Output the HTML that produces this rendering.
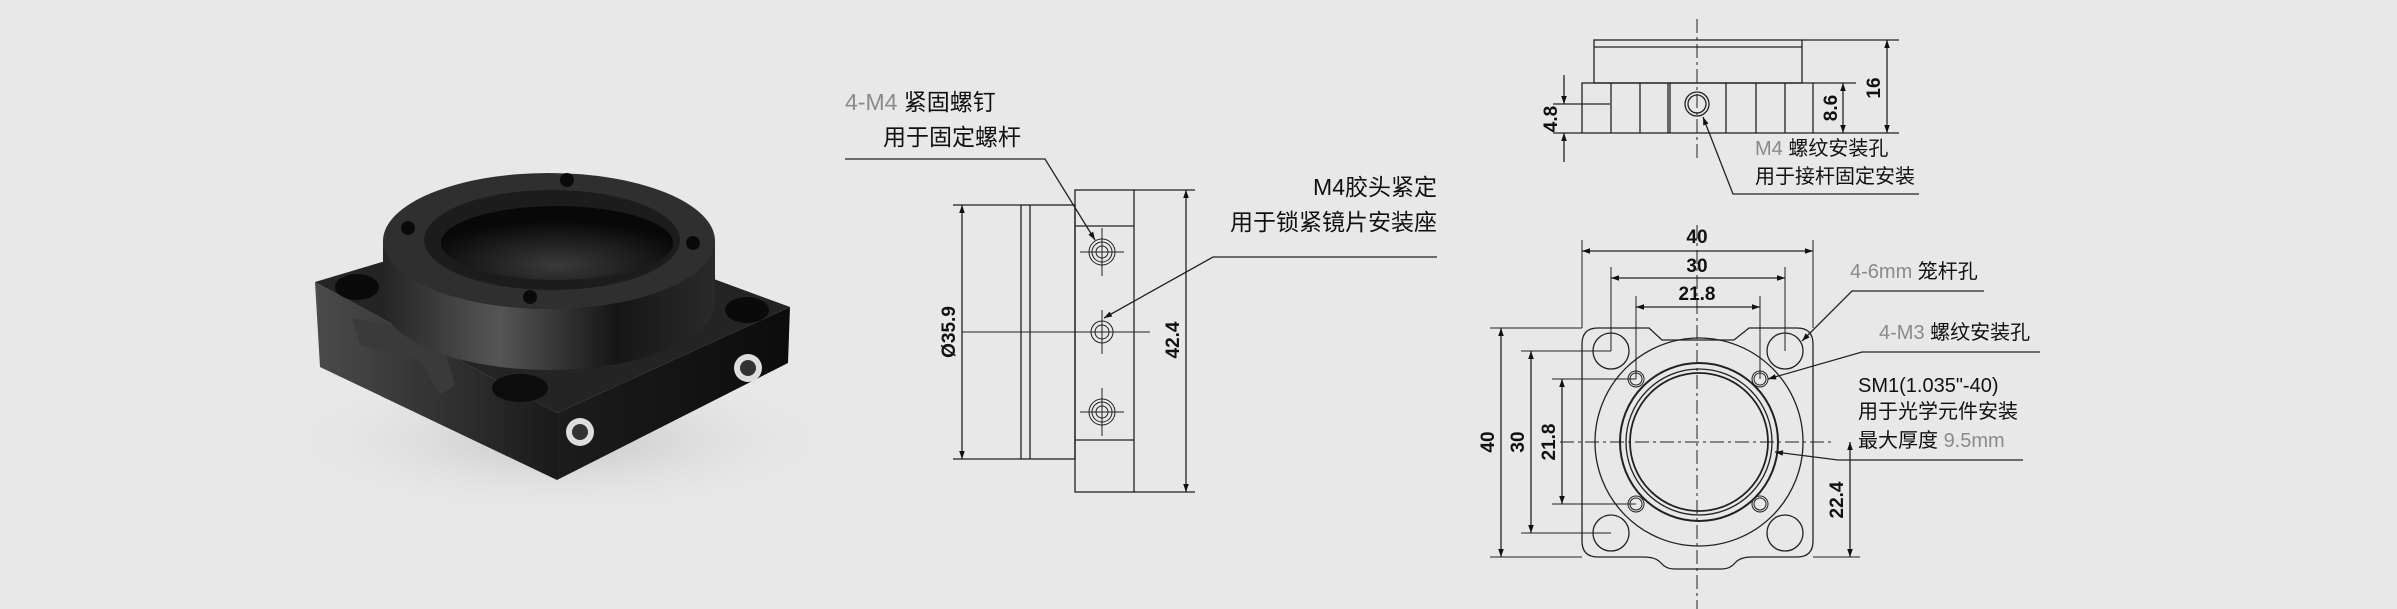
<!DOCTYPE html>
<html><head><meta charset="utf-8"><style>
html,body{margin:0;padding:0;background:#e8e8e8}
svg{display:block}
text{font-family:"Liberation Sans","Noto Sans CJK SC",sans-serif}
.cj{font-size:23px;fill:#111}
.g{fill:#8a8a8a}
.s{font-size:20px;fill:#111}
.d{font-size:19px;fill:#111;font-weight:bold}
</style></head><body>
<svg width="2397" height="609" viewBox="0 0 2397 609" xmlns="http://www.w3.org/2000/svg">
<defs>
<marker id="a" viewBox="0 0 10 10" refX="10" refY="5" markerWidth="14" markerHeight="8" markerUnits="userSpaceOnUse" orient="auto-start-reverse"><path d="M0,1.5 L10,5 L0,8.5z" fill="#111"/></marker>
<linearGradient id="side" x1="0" x2="1"><stop offset="0" stop-color="#4a4a4a"/><stop offset=".6" stop-color="#2e2e2e"/><stop offset="1" stop-color="#1a1a1a"/></linearGradient>
<linearGradient id="rside" x1="0" x2="1"><stop offset="0" stop-color="#1c1c1c"/><stop offset="1" stop-color="#0c0c0c"/></linearGradient>
<linearGradient id="cyl" x1="0" x2="1"><stop offset="0" stop-color="#252525"/><stop offset=".35" stop-color="#555"/><stop offset=".7" stop-color="#161616"/><stop offset="1" stop-color="#2a2a2a"/></linearGradient>
<radialGradient id="bore" cx=".5" cy=".8" r=".6"><stop offset="0" stop-color="#3a3a3a"/><stop offset="1" stop-color="#080808"/></radialGradient>
<radialGradient id="sh" cx=".5" cy=".5" r=".5"><stop offset="0" stop-color="#c4c4c4"/><stop offset="1" stop-color="#e8e8e8" stop-opacity="0"/></radialGradient>
</defs>
<rect width="2397" height="609" fill="#e8e8e8"/>

<!-- photo -->
<ellipse cx="560" cy="440" rx="290" ry="80" fill="url(#sh)"/>
<polygon points="315,282 557,413 557,480 320,367" fill="url(#side)"/>
<polygon points="557,413 790,307 788,363 557,480" fill="url(#rside)"/>
<polygon points="315,282 540,215 790,307 557,413" fill="#242424"/>
<polygon points="352,318 440,335 455,385 440,395 420,360 360,345" fill="#3a3a3a"/>
<ellipse cx="357" cy="287" rx="22" ry="13" fill="#0a0a0a"/>
<ellipse cx="747" cy="310" rx="22" ry="13" fill="#0a0a0a"/>
<ellipse cx="520" cy="388" rx="28" ry="14" fill="#0c0c0c"/>
<path d="M383,241 L383,302 A166,68 0 0 0 715,302 L715,241z" fill="url(#cyl)"/>
<ellipse cx="549" cy="241" rx="166" ry="68" fill="#2f2f2f"/>
<ellipse cx="552" cy="240" rx="128" ry="50" fill="#1c1c1c"/>
<ellipse cx="557" cy="243" rx="116" ry="37" fill="url(#bore)"/>
<circle cx="567" cy="180" r="7" fill="#0a0a0a"/><circle cx="408" cy="228" r="7" fill="#0a0a0a"/>
<circle cx="693" cy="243" r="7" fill="#0a0a0a"/><circle cx="530" cy="297" r="7" fill="#0a0a0a"/>
<circle cx="580" cy="432" r="14" fill="#ddd"/><circle cx="580" cy="432" r="8" fill="#333"/>
<circle cx="748" cy="368" r="14" fill="#ddd"/><circle cx="748" cy="368" r="8" fill="#333"/>

<g fill="none" stroke="#222" stroke-width="1.3">
<!-- side view -->
<rect x="1021" y="205" width="54" height="254"/>
<line x1="1030" y1="205" x2="1030" y2="459"/>
<rect x="1075" y="190" width="59" height="302"/>
<line x1="1075" y1="226" x2="1134" y2="226"/><line x1="1075" y1="440" x2="1134" y2="440"/>
<g stroke-width="1"><circle cx="1102" cy="252" r="13"/><circle cx="1102" cy="252" r="10"/><circle cx="1102" cy="252" r="6"/>
<circle cx="1102" cy="332" r="11"/><circle cx="1102" cy="332" r="7"/>
<circle cx="1102" cy="412" r="13"/><circle cx="1102" cy="412" r="10"/><circle cx="1102" cy="412" r="6"/>
<path d="M1102,228V276M1080,252H1124M1102,310V354M1102,388V436M1080,412H1124"/>
<line x1="962" y1="332" x2="1150" y2="332"/></g>
<line x1="953" y1="205" x2="1021" y2="205"/><line x1="953" y1="459" x2="1021" y2="459"/>
<line x1="962" y1="205" x2="962" y2="459" marker-start="url(#a)" marker-end="url(#a)"/>
<line x1="1134" y1="190" x2="1195" y2="190"/><line x1="1134" y1="492" x2="1195" y2="492"/>
<line x1="1186" y1="190" x2="1186" y2="492" marker-start="url(#a)" marker-end="url(#a)"/>
<polyline points="845,159 1045,159 1095,240" marker-end="url(#a)"/>
<polyline points="1437,257 1213,257 1104,318" marker-end="url(#a)"/>

<!-- top view -->
<line x1="1697" y1="19" x2="1697" y2="162" stroke-dasharray="14,4,3,4" stroke-width="1"/>
<rect x="1594" y="40" width="208" height="43"/><line x1="1594" y1="47" x2="1802" y2="47"/>
<rect x="1582" y="83" width="231" height="50"/>
<path d="M1611,83V133M1640,83V133M1668,83V133M1670,83V133M1726,83V133M1756,83V133M1785,83V133"/>
<circle cx="1697" cy="104" r="12"/><circle cx="1697" cy="104" r="9"/>
<line x1="1553" y1="104" x2="1610" y2="104"/><line x1="1553" y1="133" x2="1582" y2="133"/>
<line x1="1564" y1="75" x2="1564" y2="104" marker-end="url(#a)"/><line x1="1564" y1="162" x2="1564" y2="133" marker-end="url(#a)"/>
<line x1="1813" y1="83" x2="1856" y2="83"/><line x1="1813" y1="133" x2="1899" y2="133"/><line x1="1802" y1="40" x2="1899" y2="40"/>
<line x1="1843" y1="83" x2="1843" y2="133" marker-start="url(#a)" marker-end="url(#a)"/>
<line x1="1887" y1="40" x2="1887" y2="133" marker-start="url(#a)" marker-end="url(#a)"/>
<polyline points="1919,194 1733,194 1703,117" marker-end="url(#a)"/>

<!-- front view -->
<path d="M1598,328 H1649 L1662,340 H1734 L1749,328 H1797 Q1813,328 1813,344 V541 Q1813,557 1797,557 H1752 Q1740,557 1735,563 Q1730,569 1722,569 H1674 Q1666,569 1661,563 Q1656,557 1644,557 H1598 Q1582,557 1582,541 V344 Q1582,328 1598,328z"/>
<circle cx="1699" cy="442" r="104"/>
<circle cx="1699" cy="442" r="79" stroke-width="2"/><circle cx="1699" cy="442" r="73"/><circle cx="1699" cy="442" r="69" stroke-width="1.8"/>
<circle cx="1611" cy="351" r="18"/><circle cx="1785" cy="351" r="18"/><circle cx="1611" cy="533" r="18"/><circle cx="1785" cy="533" r="18"/>
<g stroke-width="1">
<circle cx="1636" cy="379" r="8"/><circle cx="1636" cy="379" r="6"/><circle cx="1760" cy="379" r="8"/><circle cx="1760" cy="379" r="6"/>
<circle cx="1636" cy="504" r="8"/><circle cx="1636" cy="504" r="6"/><circle cx="1760" cy="504" r="8"/><circle cx="1760" cy="504" r="6"/>
<line x1="1697" y1="225" x2="1697" y2="609" stroke-dasharray="14,4,3,4"/>
<line x1="1560" y1="442" x2="1835" y2="442" stroke-dasharray="14,4,3,4"/>
<path d="M1582,240V328M1813,240V328M1611,267V351M1785,267V351M1636,296V379M1760,296V379"/>
<path d="M1490,328H1582M1490,557H1582M1521,351H1611M1521,533H1611M1552,379H1636M1552,504H1636M1813,557H1860"/>
</g>
<line x1="1582" y1="251" x2="1813" y2="251" marker-start="url(#a)" marker-end="url(#a)"/>
<line x1="1611" y1="278" x2="1785" y2="278" marker-start="url(#a)" marker-end="url(#a)"/>
<line x1="1636" y1="307" x2="1760" y2="307" marker-start="url(#a)" marker-end="url(#a)"/>
<line x1="1501" y1="328" x2="1501" y2="557" marker-start="url(#a)" marker-end="url(#a)"/>
<line x1="1531" y1="351" x2="1531" y2="533" marker-start="url(#a)" marker-end="url(#a)"/>
<line x1="1562" y1="379" x2="1562" y2="504" marker-start="url(#a)" marker-end="url(#a)"/>
<line x1="1850" y1="442" x2="1850" y2="557" marker-start="url(#a)" marker-end="url(#a)"/>
<polyline points="1984,291 1852,291 1802,341" marker-end="url(#a)"/>
<polyline points="2040,352 1862,352 1768,379" marker-end="url(#a)"/>
<polyline points="2023,460 1838,460 1775,452" marker-end="url(#a)"/>
</g>

<!-- side view labels -->
<text x="845" y="110" class="cj"><tspan class="g">4-M4 </tspan>紧固螺钉</text>
<text x="1021" y="145" class="cj" text-anchor="end">用于固定螺杆</text>
<text x="1437" y="195" class="cj" text-anchor="end">M4胶头紧定</text>
<text x="1437" y="230" class="cj" text-anchor="end">用于锁紧镜片安装座</text>
<text class="d" transform="translate(955,332) rotate(-90)" text-anchor="middle">Ø35.9</text>
<text class="d" transform="translate(1179,340) rotate(-90)" text-anchor="middle">42.4</text>

<!-- top view labels -->
<text class="d" transform="translate(1557,119) rotate(-90)" text-anchor="middle">4.8</text>
<text class="d" transform="translate(1837,108) rotate(-90)" text-anchor="middle">8.6</text>
<text class="d" transform="translate(1880,88) rotate(-90)" text-anchor="middle">16</text>
<text x="1755" y="155" class="s"><tspan class="g">M4 </tspan>螺纹安装孔</text>
<text x="1755" y="183" class="s">用于接杆固定安装</text>

<!-- front view labels -->
<text x="1697" y="243" class="d" text-anchor="middle">40</text>
<text x="1697" y="272" class="d" text-anchor="middle">30</text>
<text x="1697" y="300" class="d" text-anchor="middle">21.8</text>
<text class="d" transform="translate(1494,442) rotate(-90)" text-anchor="middle">40</text>
<text class="d" transform="translate(1524,442) rotate(-90)" text-anchor="middle">30</text>
<text class="d" transform="translate(1555,442) rotate(-90)" text-anchor="middle">21.8</text>
<text class="d" transform="translate(1843,500) rotate(-90)" text-anchor="middle">22.4</text>
<text x="1850" y="278" class="s"><tspan class="g">4-6mm </tspan>笼杆孔</text>
<text x="1879" y="339" class="s"><tspan class="g">4-M3 </tspan>螺纹安装孔</text>
<text x="1858" y="392" class="s g">SM1(1.035"-40)</text>
<text x="1858" y="418" class="s">用于光学元件安装</text>
<text x="1858" y="447" class="s">最大厚度 <tspan class="g">9.5mm</tspan></text>
</svg>
</body></html>
